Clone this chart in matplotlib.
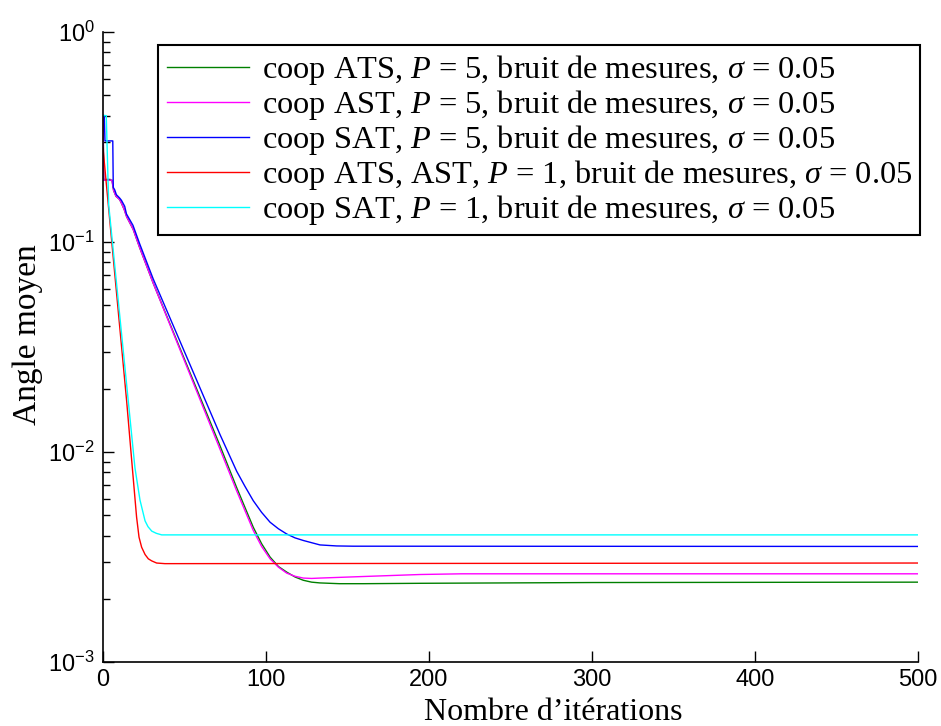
import math
import matplotlib
matplotlib.use("Agg")
import matplotlib.pyplot as plt
from matplotlib.ticker import FuncFormatter, LogLocator, NullFormatter

plt.rcParams['mathtext.fontset'] = 'custom'
plt.rcParams['mathtext.rm'] = 'Liberation Serif'
plt.rcParams['mathtext.it'] = 'Liberation Serif:italic'
plt.rcParams['mathtext.sf'] = 'Liberation Sans'

# ---- data ----
ats5_x = [0, 0.5, 5.5, 6.5, 8, 10, 11, 13, 14.5, 18.5, 22.5, 30.7, 71.8, 82, 92.2, 97.3, 102.5,
          107.6, 112.7, 117.8, 122.9, 128, 133.1, 145, 160, 194.5, 300, 500]
ats5_y = [0.40, 0.197, 0.197, 0.176, 0.165, 0.160, 0.155, 0.143, 0.132, 0.115, 0.094, 0.064, 0.0107,
          0.00677, 0.00438, 0.00366, 0.00316, 0.00285, 0.00268, 0.00254, 0.00245, 0.00240, 0.00238,
          0.00236, 0.00236, 0.00237, 0.00239, 0.00240]

ast5_x = [0, 0.5, 5.5, 6.5, 8, 10, 11, 13, 14.5, 18.5, 22.5, 30.7, 71.8, 82, 92.2, 97.3, 102.5,
          107.6, 112.7, 117.8, 122.9, 128, 133.1, 163.8, 194.5, 220, 500]
ast5_y = [0.40, 0.197, 0.197, 0.176, 0.165, 0.160, 0.155, 0.143, 0.132, 0.115, 0.094, 0.064, 0.0103,
          0.00653, 0.00423, 0.00355, 0.00310, 0.00283, 0.00265, 0.00256, 0.00251, 0.00250, 0.00251,
          0.00256, 0.00261, 0.00263, 0.00263]

sat5_x = [0, 0.8, 1.2, 6, 6.3, 7.2, 8.2, 10.2, 11.3, 13.3, 14.4, 18.4, 22.5, 30.7, 71.8, 82, 87.1,
          92.2, 97.3, 102.5, 107.6, 112.7, 117.8, 122.9, 133.1, 143.3, 153.4, 500]
sat5_y = [0.40, 0.40, 0.303, 0.303, 0.182, 0.177, 0.168, 0.162, 0.158, 0.148, 0.136, 0.120, 0.098,
          0.067, 0.0121, 0.0081, 0.00686, 0.00586, 0.00516, 0.00463, 0.00431, 0.00407, 0.00390,
          0.00379, 0.00361, 0.00357, 0.00356, 0.00355]

atsast1_x = [0, 14.5, 18, 20.6, 22.1, 23.7, 25.8, 27.8, 29.9, 32.9, 38, 500]
atsast1_y = [0.28, 0.0175, 0.0084, 0.0049, 0.00393, 0.00352, 0.00325, 0.0031, 0.00303, 0.00296,
             0.00294, 0.00296]

sat1_x = [0, 2, 3.5, 15.5, 19.6, 22.7, 25.8, 27.6, 29.9, 32.7, 36, 500]
sat1_y = [0.40, 0.40, 0.15, 0.0175, 0.0084, 0.0059, 0.0047, 0.00441, 0.0042, 0.00410, 0.00403, 0.00403]

labels = [
    r'coop ATS, $P$ = 5, bruit de mesures, $\sigma$ = 0.05',
    r'coop AST, $P$ = 5, bruit de mesures, $\sigma$ = 0.05',
    r'coop SAT, $P$ = 5, bruit de mesures, $\sigma$ = 0.05',
    r'coop ATS, AST, $P$ = 1, bruit de mesures, $\sigma$ = 0.05',
    r'coop SAT, $P$ = 1, bruit de mesures, $\sigma$ = 0.05',
]
colors = ['#008000', '#ff00ff', '#0000ff', '#ff0000', '#00ffff']
xticks = [0, 100, 200, 300, 400, 500]

fig = plt.figure(figsize=(9.41, 7.26), dpi=100)
ax = fig.add_axes([103/941, 1-662/726, 815/941, 630/726])

series = [(ats5_x, ats5_y), (ast5_x, ast5_y), (sat5_x, sat5_y),
          (atsast1_x, atsast1_y), (sat1_x, sat1_y)]
for (xs, ys), c, lab in zip(series, colors, labels):
    ax.plot(xs, ys, color=c, lw=1.0, label=lab)

ax.set_yscale('log')
ax.set_ylim(1e-3, 1e0)
ax.set_xlim(0, 500)
ax.set_xticks(xticks)

def yfmt(v, pos):
    e = int(round(math.log10(v)))
    return r'$\mathsf{10^{%d}}$' % e
ax.yaxis.set_major_locator(LogLocator(base=10, numticks=10))
ax.yaxis.set_major_formatter(FuncFormatter(yfmt))
ax.yaxis.set_minor_locator(LogLocator(base=10, subs=range(2, 10), numticks=20))
ax.yaxis.set_minor_formatter(NullFormatter())

ax.tick_params(axis='both', which='major', direction='in', length=8, width=1,
               labelsize=17, top=False, right=False)
ax.tick_params(axis='y', which='minor', direction='in', length=5, width=1, right=False)
ax.tick_params(axis='x', pad=5)
ax.tick_params(axis='y', pad=6)
for lab in ax.get_xticklabels():
    lab.set_fontfamily('Liberation Sans')

ax.spines['top'].set_visible(False)
ax.spines['right'].set_visible(False)
ax.spines['left'].set_linewidth(1.2)
ax.spines['bottom'].set_linewidth(1.2)

ax.set_xlabel("Nombre d’itérations", fontfamily='Liberation Serif', fontsize=23)
ax.xaxis.set_label_coords((553-103)/815, -(713-662)/630)
ax.xaxis.label.set_va('center')
ax.set_ylabel("Angle moyen", fontfamily='Liberation Serif', fontsize=24)
ax.yaxis.set_label_coords(-(103-28)/815, (662-335)/630)
ax.yaxis.label.set_va('center')

leg = ax.legend(loc='upper right', bbox_to_anchor=(1.003, 0.979), borderaxespad=0,
                prop={'family': 'Liberation Serif', 'size': 23.3},
                frameon=True, fancybox=False, handlelength=2.55, handletextpad=0.4,
                labelspacing=0.03, borderpad=0.25)
leg.get_frame().set_edgecolor('black')
leg.get_frame().set_linewidth(1.5)
leg.get_frame().set_alpha(1)

fig.savefig('out.png', dpi=100)
